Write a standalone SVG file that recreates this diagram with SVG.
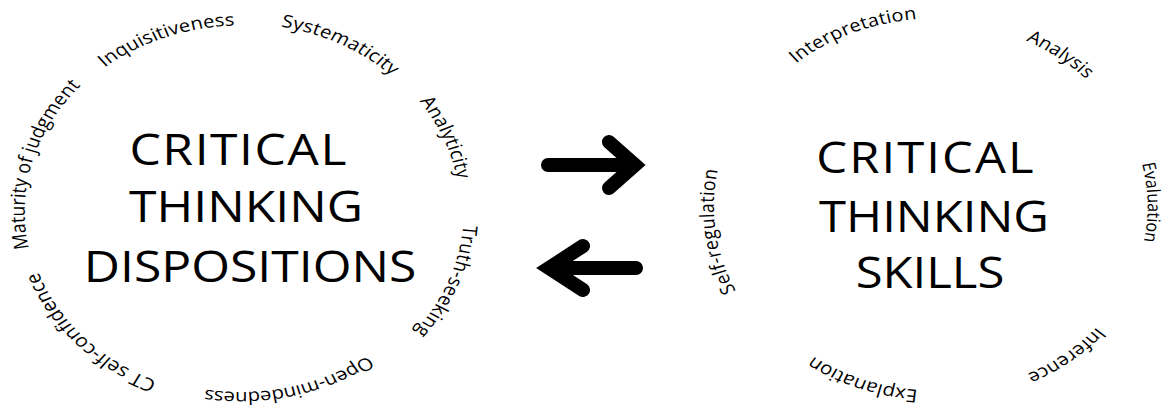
<svg xmlns="http://www.w3.org/2000/svg" xmlns:xlink="http://www.w3.org/1999/xlink" width="1165" height="410" viewBox="0 0 1165 410">
<style>
text{font-family:"Open Sans","DejaVu Sans",sans-serif;fill:#000;}
.w{font-size:17.5px;text-anchor:middle;}
.big{font-size:43px;text-anchor:middle;}
.arrow{fill:none;stroke:#000;stroke-width:14;stroke-linecap:round;stroke-linejoin:miter;}
</style>
<defs>
<path id="ring" d="M184,0 A184,184 0 1 1 -184,0 A184,184 0 1 1 184,0 A184,184 0 1 1 -184,0 A184,184 0 1 1 184,0"/>
</defs>
<rect width="1165" height="410" fill="#fff"/>
<g id="dispositions" transform="translate(241,211) scale(1.16,1)">
<g id="disp-title">
<text class="big" x="-2" y="-46" letter-spacing="1.3">CRITICAL</text>
<text class="big" x="4.3" y="11">THINKING</text>
<text class="big" x="7.8" y="71">DISPOSITIONS</text>
</g>
<g id="inquisitiveness"><text class="w" dy="-1.5"><textPath href="#ring" startOffset="801">Inquisitiveness</textPath></text></g>
<g id="systematicity"><text class="w" dy="-3.5"><textPath href="#ring" startOffset="954">Systematicity</textPath></text></g>
<g id="analyticity"><text class="w" dy="-5"><textPath href="#ring" startOffset="1083">Analyticity</textPath></text></g>
<g id="truth-seeking"><text class="w" dy="-8"><textPath href="#ring" startOffset="1225">Truth-seeking</textPath></text></g>
<g id="open-mindedness"><text class="w" dy="3"><textPath href="#ring" startOffset="1401">Open-mindedness</textPath></text></g>
<g id="ct-self-confidence"><text class="w" dy="-1" style="font-size:18px"><textPath href="#ring" startOffset="1595">CT self-confidence</textPath></text></g>
<g id="maturity"><text class="w" dy="-2.5"><textPath href="#ring" startOffset="627">Maturity of judgment</textPath></text></g>
</g>
<g id="skills" transform="translate(935,206.5) scale(1.14,1)">
<g id="skills-title">
<text class="big" x="-7.9" y="-33.5" letter-spacing="1.8">CRITICAL</text>
<text class="big" x="-0.9" y="25.5">THINKING</text>
<text class="big" x="-4.4" y="81.5">SKILLS</text>
</g>
<g id="interpretation"><text class="w" dy="-4"><textPath href="#ring" startOffset="794">Interpretation</textPath></text></g>
<g id="analysis"><text class="w"><textPath href="#ring" startOffset="982.0">Analysis</textPath></text></g>
<g id="evaluation"><text class="w" dy="-2.5" style="font-size:16px"><textPath href="#ring" startOffset="1151.6">Evaluation</textPath></text></g>
<g id="inference"><text class="w" dy="-2"><textPath href="#ring" startOffset="1323.7">Inference</textPath></text></g>
<g id="explanation"><text class="w" style="font-size:18px"><textPath href="#ring" startOffset="1509">Explanation</textPath></text></g>
<g id="self-regulation"><text class="w" dy="-10"><textPath href="#ring" startOffset="1709.4">Self-regulation</textPath></text></g>
</g>
<g id="connectors">
<path class="arrow" d="M548,165 H634 M609,142 L635,165 L609,188"/>
<path class="arrow" d="M636,268 H550 M583,246 L549,268 L583,290"/>
</g>
</svg>
